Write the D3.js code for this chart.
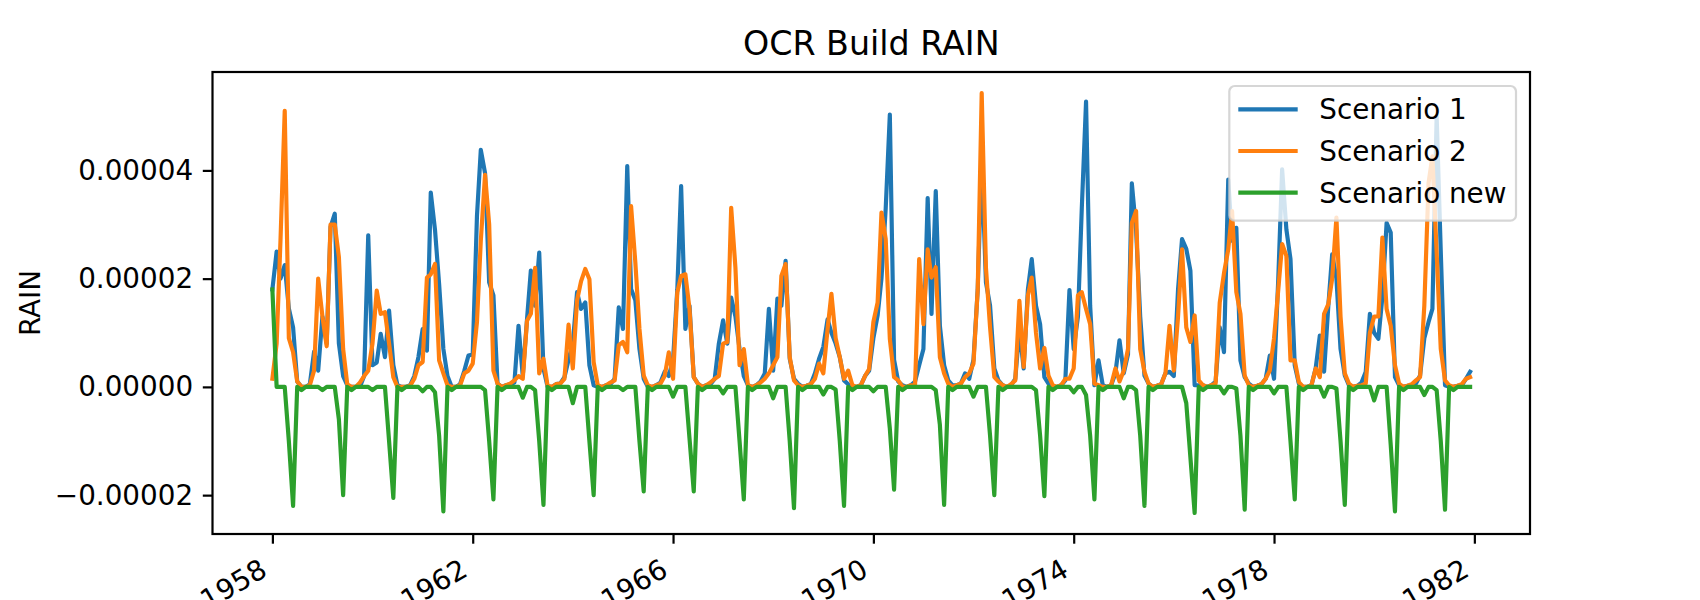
<!DOCTYPE html>
<html>
<head>
<meta charset="utf-8">
<script src="https://cdn.jsdelivr.net/npm/d3@7"></script>
<style>
    body { margin: 0; background: #fff; }
    svg { display: block; font-family: "DejaVu Sans", sans-serif; }
</style>
</head>
<body>
<div id="chart"></div>
<script>
// Valores em unidades de 1e-6 (um valor por mes, jan/1958 .. dez/1981)
var unit = 1e-6;

var scenario_1 = [
    18, 25, 20, 22.5, 14.5, 11, 1, 0, 0, 0.5, 6.5, 3,
    13, 8, 29.5, 32, 8, 2, 0.3, 0, 0, 0, 2, 28,
    4, 4.5, 9.8, 5.5, 14.1, 4, 0.3, 0, 0, 0.3, 2, 5.5,
    10.7, 6.7, 35.9, 29, 19, 7, 2, 0, 0, 0.5, 3, 5.8,
    6, 31.6, 43.8, 39.5, 19.3, 16.9, 0.6, 0, 0.3, 0.5, 0.8, 11.3,
    2, 12.5, 21.5, 15, 24.8, 3.4, 0, 0, 0.5, 0.6, 1.8, 5,
    8, 17.5, 14.4, 15.6, 4, 0.3, 0, 0, 0.3, 0.5, 1.5, 14.7,
    10.7, 40.8, 18.1, 16, 7, 1.5, 0, 0, 0.3, 0.8, 2.8, 2,
    5, 18, 37.1, 10.7, 15, 1.8, 0.6, 0, 0.3, 0.5, 1.5, 8,
    12.3, 8, 16.5, 13, 7, 2, 0.3, 0, 0.3, 1, 2.5, 14.4,
    3, 16.3, 15, 23.3, 5.2, 1.5, 0.6, 0, 0.2, 0.5, 2.5, 5.2,
    7.4, 12.5, 10, 8, 5.5, 1.2, 0.5, 0, 0, 0.3, 2, 3,
    9, 13.2, 20, 33, 50.3, 5, 1, 0.3, 0, 0.3, 1, 4,
    7, 34.9, 13.5, 36.2, 11.3, 4, 1.2, 0.3, 0.3, 0.6, 2.5, 1.5,
    5, 18, 42, 19.3, 15, 3.4, 1.2, 0.3, 0, 0.3, 1.5, 10.7,
    3.4, 18, 23.6, 15, 11.6, 1.8, 0.6, 0, 0, 0.3, 1.2, 17.9,
    7, 13, 33, 52.7, 15, 0.3, 4.9, 0.3, 0, 0.3, 2.5, 8.6,
    2.5, 6, 37.6, 29, 13, 2.1, 0.6, 0, 0.2, 0.5, 2.5, 2.8,
    2, 18, 27.3, 25.5, 21.5, 0.3, 0.3, 0.3, 0, 0.3, 1, 11,
    6.4, 38.3, 27, 29.4, 4.9, 1.8, 0.6, 0, 0.2, 0.5, 1.5, 5.8,
    1.5, 20, 40.2, 29.1, 23.6, 4, 0.6, 0, 0, 0.3, 3.5, 9.5,
    2.8, 15, 24.5, 20, 7, 2.1, 0.3, 0, 0.2, 0.8, 2.8, 13.5,
    10, 8.9, 16.6, 30.3, 28.5, 1.8, 0.3, 0, 0.2, 0.3, 0.6, 2.1,
    9, 12, 14.4, 50, 25, 0.3, 0, 0, 0.2, 0.3, 1.5, 2.8
];

var scenario_2 = [
    1.5, 8, 27, 51, 9, 6.4, 1, 0, 0, 0.3, 3, 20,
    13, 7.5, 30, 30, 24, 7, 0.5, 0, 0, 0.8, 2, 3,
    8, 17.8, 13.5, 13.8, 8, 1.8, 0, 0, 0, 0.2, 1.5, 4,
    4.6, 20.2, 20.8, 22.7, 4.9, 2.5, 0.3, 0, 0, 0.3, 2.5, 3,
    4.3, 12, 27, 39.2, 30, 3, 0.6, 0, 0.3, 0.6, 1.2, 2,
    1.5, 12.2, 13.5, 22, 2.5, 5.2, 0.2, 0, 0.5, 0.6, 1.5, 11.5,
    3.4, 16, 19.5, 21.8, 19.9, 4.6, 0.3, 0, 0.3, 0.8, 1.2, 7.7,
    8.3, 6.4, 33.4, 23, 10.7, 2.1, 0.3, 0, 0.3, 0.6, 2, 6.4,
    1.5, 17.5, 20.5, 20.8, 14.4, 1.8, 0.6, 0, 0.3, 0.8, 1.5, 2,
    8, 8.3, 33.1, 22, 4, 7, 0.3, 0, 0.3, 0.8, 1.5, 2.5,
    4, 5.5, 20.5, 22.7, 5.5, 1.2, 0.3, 0, 0.2, 0.5, 1.5, 4.3,
    2.5, 10.7, 17.2, 9, 5.5, 1.5, 3, 0.3, 0, 0.3, 2, 3.3,
    12, 15.6, 32.2, 27.3, 8.9, 1.8, 1.2, 0, 0, 0.3, 0.3, 23.6,
    11.6, 25.4, 20.2, 22.1, 5.5, 2.5, 0.6, 0, 0.3, 0.6, 1.8, 2.5,
    4.3, 18, 54.3, 22, 11, 1.8, 1, 0.3, 0, 0.5, 1.2, 15.9,
    3.7, 16.9, 20.2, 10, 3.4, 7.2, 2.1, 0.3, 0, 0.3, 1.5, 1.5,
    3.4, 16.9, 17.5, 14.4, 11.6, 0.6, 0.3, 0, 0, 0.3, 3.4, 1,
    3, 7, 30.3, 32.5, 7, 2.8, 0.6, 0, 0.2, 0.5, 2.5, 11.3,
    3, 13, 25.4, 11, 8.3, 13.2, 1.2, 0.3, 0, 0.3, 0.6, 15.6,
    21, 25.4, 32.5, 17.5, 13.5, 2.1, 0.3, 0, 0.2, 0.5, 1.5, 3,
    9, 18, 26.4, 24.2, 4.9, 4.9, 0.9, 0, 0, 0.3, 3.4, 1.8,
    13.5, 15.3, 20, 31.3, 13, 2.5, 0.6, 0, 0.2, 0.3, 0.6, 10,
    13, 13, 27.6, 14.4, 11.3, 4, 0.6, 0, 0.2, 0.5, 1.2, 1.8,
    15, 37.7, 42.6, 24.8, 7, 1.2, 0.3, 0, 0.2, 0.5, 1.5, 1.8
];

var scenario_new = [
    18, 0, 0, 0, -10, -22, 0, -0.6, 0, 0, 0, 0,
    -0.6, 0, 0, 0, -6, -20, 0, -0.6, 0, 0, 0, 0,
    -0.6, 0, 0, 0, -10, -20.5, 0, -0.6, 0, 0, 0, 0,
    -0.8, 0, 0, -1, -9, -23, 0, -0.6, 0, 0, 0, 0,
    0, 0, 0, -0.6, -10, -20.8, 0, -0.6, 0, 0, 0, 0,
    -2, 0, 0, -0.6, -10, -21.8, 0, -0.6, 0, 0, 0, 0,
    -3, 0, 0, 0, -10, -20, 0, -0.6, 0, 0, 0, 0,
    -0.6, 0, 0, 0, -10, -19.3, 0, -0.6, 0, 0, 0, 0,
    -1.8, 0, 0, 0, -9.5, -19.3, 0, -0.6, 0, 0, 0, 0,
    -1.2, 0, 0, 0, -10, -20.8, 0, -0.6, 0, 0, 0, 0,
    -2.1, 0, 0, 0, -10, -22.4, 0, -0.6, 0, 0, 0, 0,
    -1.4, 0, 0, -0.5, -10, -22, 0, -0.6, 0, 0, 0, 0,
    -0.8, 0, 0, 0, -7.7, -19, 0, -0.6, 0, 0, 0, 0,
    0, 0, 0, -0.6, -7, -21.8, 0, -0.6, 0, 0, 0, 0,
    -1.8, 0, 0, 0, -9, -20, 0, -0.6, 0, 0, 0, 0,
    0, 0, 0, -0.6, -9, -20.2, 0, -0.6, 0, 0, 0, 0,
    -1, 0, 0, -1.5, -9, -20.8, 0, -0.6, 0, 0, 0, 0,
    -2.1, 0, 0, -0.6, -9, -22, 0, -0.6, 0, 0, 0, 0,
    0, 0, 0, -3, -13, -23.3, 0, -0.6, 0, 0, 0, 0,
    -1.2, 0, 0, -0.3, -9, -22.7, 0, -0.6, 0, 0, 0, 0,
    -1.2, 0, 0, 0, -10, -20.8, 0, -0.6, 0, 0, 0, 0,
    -1.8, 0, 0, -0.3, -10, -21.8, 0, -0.6, 0, 0, 0, 0,
    -2.5, 0, 0, 0, -10.7, -23, 0, -0.6, 0, 0, 0, 0,
    -1.5, 0, 0, -0.6, -10, -22.7, 0, -0.6, 0, 0, 0, 0
];

var series_names = ['Scenario 1', 'Scenario 2', 'Scenario new'];
var series_colors = ['#1f77b4', '#ff7f0e', '#2ca02c'];
var x_tick_years = [1958, 1962, 1966, 1970, 1974, 1978, 1982];
var y_tick_values = [-0.00002, 0, 0.00002, 0.00004];
var y_tick_labels = ['\u22120.00002', '0.00000', '0.00002', '0.00004'];
var chart_title = 'OCR Build RAIN';
var y_label = 'RAIN';

var chart_width = 1700;
var chart_height = 600;
var plot_left = 212.5, plot_right = 1530, plot_top = 72, plot_bottom = 534;
var font_size = 27.8;

// datas mensais
var dates = d3.utcMonth.range(new Date(Date.UTC(1958, 0, 1)), new Date(Date.UTC(1982, 0, 1)));

var series = [scenario_1, scenario_2, scenario_new].map(function (vals, i) {
    return {
        name: series_names[i],
        color: series_colors[i],
        values: vals.map(function (v, j) { return [dates[j], v * unit]; })
    };
});

// Criar SVG
var svg = d3.select('#chart')
    .append('svg')
    .attr('width', chart_width)
    .attr('height', chart_height);

// Criar Escalas (margens de 5% como no matplotlib)
var t0 = dates[0].getTime(), t1 = dates[dates.length - 1].getTime();
var t_pad = (t1 - t0) * 0.05;
var x_scale = d3.scaleUtc()
    .domain([new Date(t0 - t_pad), new Date(t1 + t_pad)])
    .range([plot_left, plot_right]);

var all_vals = [].concat(scenario_1, scenario_2, scenario_new).map(function (v) { return v * unit; });
var y_min = d3.min(all_vals), y_max = d3.max(all_vals);
var y_pad = (y_max - y_min) * 0.05;
var y_scale = d3.scaleLinear()
    .domain([y_min - y_pad, y_max + y_pad])
    .range([plot_bottom, plot_top]);

// clip
svg.append('clipPath')
    .attr('id', 'plot-clip')
    .append('rect')
    .attr('x', plot_left).attr('y', plot_top)
    .attr('width', plot_right - plot_left).attr('height', plot_bottom - plot_top);

// Criar linhas
var line = d3.line()
    .x(function (d) { return x_scale(d[0]); })
    .y(function (d) { return y_scale(d[1]); });

svg.append('g')
    .attr('clip-path', 'url(#plot-clip)')
    .selectAll('path')
    .data(series)
    .enter()
    .append('path')
    .attr('d', function (d) { return line(d.values); })
    .attr('fill', 'none')
    .attr('stroke', function (d) { return d.color; })
    .attr('stroke-width', 4.17)
    .attr('stroke-linejoin', 'round')
    .attr('stroke-linecap', 'square');

// Eixos
var x_axis = d3.axisBottom(x_scale)
    .tickValues(x_tick_years.map(function (y) { return new Date(Date.UTC(y, 0, 1)); }))
    .tickFormat(d3.utcFormat('%Y'))
    .tickSize(9.7)
    .tickSizeOuter(0);

var gx = svg.append('g')
    .attr('transform', 'translate(0,' + plot_bottom + ')')
    .call(x_axis);
gx.select('.domain').remove();
gx.selectAll('.tick line').attr('stroke', '#000').attr('stroke-width', 2.2);
gx.selectAll('.tick text')
    .attr('font-family', 'DejaVu Sans')
    .attr('font-size', font_size)
    .attr('fill', '#000')
    .attr('text-anchor', 'end')
    .attr('y', null)
    .attr('dy', null)
    .attr('transform', 'translate(-4,41) rotate(-30)');

var y_axis = d3.axisLeft(y_scale)
    .tickValues(y_tick_values)
    .tickFormat(function (d, i) { return y_tick_labels[i]; })
    .tickSize(9.7)
    .tickPadding(9.7)
    .tickSizeOuter(0);

var gy = svg.append('g')
    .attr('transform', 'translate(' + plot_left + ',0)')
    .call(y_axis);
gy.select('.domain').remove();
gy.selectAll('.tick line').attr('stroke', '#000').attr('stroke-width', 2.2);
gy.selectAll('.tick text')
    .attr('font-family', 'DejaVu Sans')
    .attr('font-size', font_size)
    .attr('fill', '#000');

// Moldura
svg.append('rect')
    .attr('x', plot_left).attr('y', plot_top)
    .attr('width', plot_right - plot_left).attr('height', plot_bottom - plot_top)
    .attr('fill', 'none')
    .attr('stroke', '#000')
    .attr('stroke-width', 2.2);

// Titulo e rotulo
svg.append('text')
    .text(chart_title)
    .attr('x', (plot_left + plot_right) / 2)
    .attr('y', 54.5)
    .attr('text-anchor', 'middle')
    .attr('font-size', 33.3)
    .attr('fill', '#000');

svg.append('text')
    .text(y_label)
    .attr('transform', 'translate(40,' + ((plot_top + plot_bottom) / 2) + ') rotate(-90)')
    .attr('text-anchor', 'middle')
    .attr('font-size', font_size)
    .attr('fill', '#000');

// Legenda
var legend = svg.append('g');
legend.append('rect')
    .attr('x', 1229.3).attr('y', 86)
    .attr('width', 1516 - 1229.3).attr('height', 220.7 - 86)
    .attr('rx', 5.5)
    .attr('fill', 'rgba(255,255,255,0.8)')
    .attr('stroke', 'rgba(204,204,204,0.8)')
    .attr('stroke-width', 2.2);

var legend_rows = legend.selectAll('g.row')
    .data(series)
    .enter()
    .append('g')
    .attr('class', 'row')
    .attr('transform', function (d, i) { return 'translate(0,' + (109.3 + i * 41.7) + ')'; });

legend_rows.append('line')
    .attr('x1', 1238.3).attr('x2', 1297.7)
    .attr('y1', 0).attr('y2', 0)
    .attr('stroke', function (d) { return d.color; })
    .attr('stroke-width', 4.17);

legend_rows.append('text')
    .text(function (d) { return d.name; })
    .attr('x', 1319.3)
    .attr('y', 10)
    .attr('font-size', font_size)
    .attr('fill', '#000');
</script>
</body>
</html>
